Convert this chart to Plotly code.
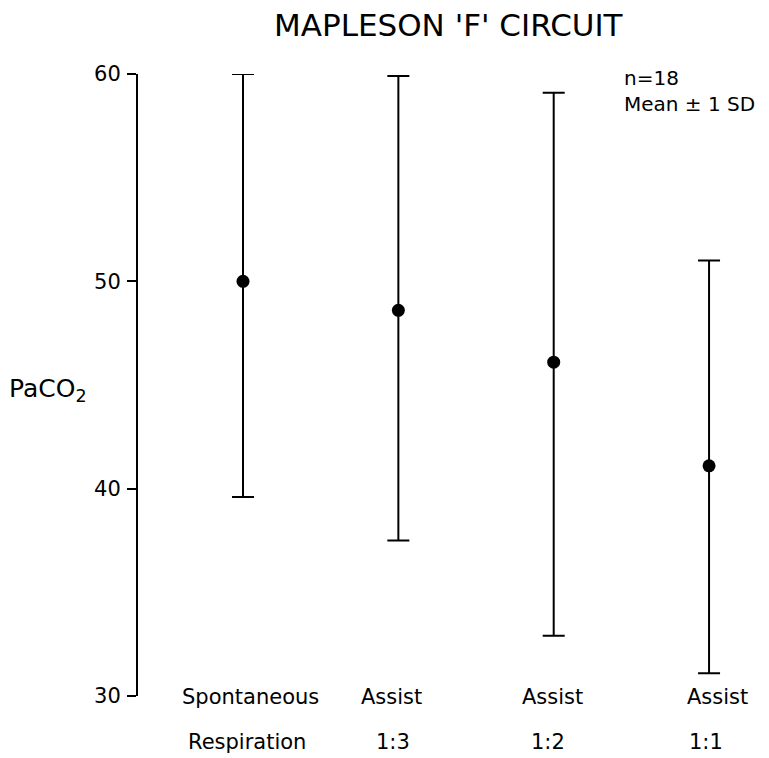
import plotly.graph_objects as go

# Data
categories = ["Spontaneous", "Assist", "Assist", "Assist"]
categories_line2 = ["Respiration", "1:3", "1:2", "1:1"]
mean_paco2 = [50.0, 48.6, 46.1, 41.1]
upper_paco2 = [60.0, 59.9, 59.1, 51.0]
lower_paco2 = [39.6, 37.5, 32.9, 31.1]
y_ticks = [30, 40, 50, 60]

FONT = "DejaVu Sans"
OFF = 8  # page body margin in the browser
W, H = 769 - OFF, 758 - OFF
PLOT_L, PLOT_R, PLOT_T, PLOT_B = 138, 760, 74, 696  # target page pixels
LINE1_SHIFT = [7, -7, -1, 8]
LINE2_SHIFT = [4, -5, -6, -3]


def px_x(px):
    return (px - PLOT_L) / (PLOT_R - PLOT_L)


def px_y(py):
    return (PLOT_B - py) / (PLOT_B - PLOT_T)


xs = list(range(len(categories)))
err_plus = [u - m for u, m in zip(upper_paco2, mean_paco2)]
err_minus = [m - l for m, l in zip(mean_paco2, lower_paco2)]

fig = go.Figure()
fig.add_trace(go.Scatter(
    x=xs, y=mean_paco2, mode="markers",
    marker=dict(size=13, color="black"),
    error_y=dict(type="data", symmetric=False, array=err_plus, arrayminus=err_minus,
                 color="black", thickness=2, width=11),
    showlegend=False, hoverinfo="skip",
))

cat_font = dict(size=21, color="black", family=FONT)
txt_font = dict(size=20, color="black", family=FONT)
annotations = []
for i, (l1, l2) in enumerate(zip(categories, categories_line2)):
    annotations.append(dict(x=i, xref="x", y=px_y(697), yref="paper", text=l1, showarrow=False,
                            xanchor="center", yanchor="middle", xshift=LINE1_SHIFT[i], font=cat_font))
    annotations.append(dict(x=i, xref="x", y=px_y(742), yref="paper", text=l2, showarrow=False,
                            xanchor="center", yanchor="middle", xshift=LINE2_SHIFT[i], font=cat_font))

annotations.append(dict(x=px_x(622), xref="paper", y=px_y(78), yref="paper", text="n=18",
                        showarrow=False, xanchor="left", yanchor="middle", font=txt_font))
annotations.append(dict(x=px_x(622), xref="paper", y=px_y(104), yref="paper", text="Mean ± 1 SD",
                        showarrow=False, xanchor="left", yanchor="middle", font=txt_font))
annotations.append(dict(x=px_x(7), xref="paper", y=px_y(390), yref="paper", text="PaCO<sub>2</sub>",
                        showarrow=False, xanchor="left", yanchor="middle",
                        font=dict(size=25, color="black", family=FONT)))
annotations.append(dict(x=px_x(449), xref="paper", y=px_y(25), yref="paper", text="MAPLESON 'F' CIRCUIT",
                        showarrow=False, xanchor="center", yanchor="middle",
                        font=dict(size=31, color="black", family=FONT)))

fig.update_layout(
    width=W, height=H,
    margin=dict(l=PLOT_L - OFF, r=769 - PLOT_R, t=PLOT_T - OFF, b=758 - PLOT_B),
    paper_bgcolor="white", plot_bgcolor="white",
    annotations=annotations,
    xaxis=dict(range=[-0.676, 3.328], showgrid=False, zeroline=False, showline=False,
               showticklabels=False, ticks=""),
    yaxis=dict(range=[30, 60], tickvals=y_ticks, showgrid=False, zeroline=False,
               showline=True, linecolor="black", linewidth=2, ticks="outside", ticklen=9,
               tickwidth=2, tickcolor="black", ticklabelstandoff=2,
               tickfont=dict(size=21, color="black", family=FONT)),
)

fig.write_html("out.html")
